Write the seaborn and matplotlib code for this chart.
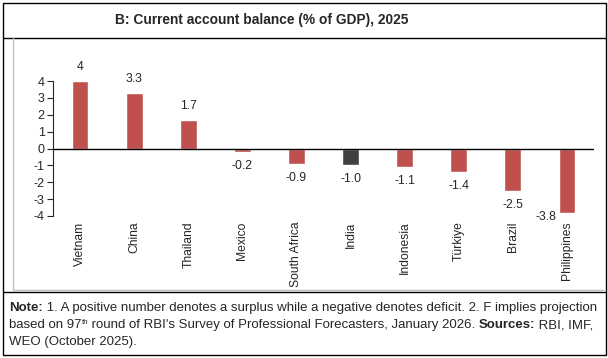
import pandas as pd
import seaborn as sns
import matplotlib.pyplot as plt
from matplotlib.lines import Line2D
from matplotlib.patches import Rectangle

# Dados do gráfico
countries = ['Vietnam', 'China', 'Thailand', 'Mexico', 'South Africa', 'India',
             'Indonesia', 'Türkiye', 'Brazil', 'Philippines']
balance = [4.0, 3.3, 1.7, -0.2, -0.9, -1.0, -1.1, -1.4, -2.5, -3.8]
value_labels = ['4', '3.3', '1.7', '-0.2', '-0.9', '-1.0', '-1.1', '-1.4', '-2.5', '-3.8']
yticks = [4, 3, 2, 1, 0, -1, -2, -3, -4]

RED = '#C0504D'
DARK = '#404040'
bar_colors = [DARK if c == 'India' else RED for c in countries]

sns.set_style('white')
plt.rcParams['font.family'] = ['Liberation Sans', 'DejaVu Sans']

W, H = 608, 358
fig = plt.figure(figsize=(W / 100, H / 100), dpi=100)
renderer = fig.canvas.get_renderer()


def fx(x):
    return x / W


def fy(y):
    return 1 - y / H


# Moldura
fig.patches.append(Rectangle((fx(2.5), fy(354.5)), fx(603), 352 / H, transform=fig.transFigure,
                             fill=False, edgecolor='black', lw=1))
fig.lines.append(Line2D([fx(2.5), fx(605.5)], [fy(37.5), fy(37.5)], transform=fig.transFigure,
                        color='black', lw=1))
fig.lines.append(Line2D([fx(2.5), fx(605.5)], [fy(291.5), fy(291.5)], transform=fig.transFigure,
                        color='black', lw=1))
fig.lines.append(Line2D([fx(12.5), fx(12.5), fx(603)], [fy(38), fy(289.5), fy(289.5)],
                        transform=fig.transFigure, color='#BFBFBF', lw=1))

fig.text(fx(262), fy(20), 'B: Current account balance (% of GDP), 2025',
         ha='center', va='center', fontsize=9.9, fontweight='bold')

ax = fig.add_axes([fx(53), fy(216), fx(594) - fx(53), (216 - 81) / H])
df = pd.DataFrame({'country': countries, 'value': balance})
sns.barplot(data=df, x='country', y='value', hue='country', palette=bar_colors,
            legend=False, width=0.31, saturation=1, ax=ax)

ax.set_ylim(-4, 4)
ax.set_xlim(-0.5, len(countries) - 0.5)
ax.set_yticks(yticks)
ax.set_yticklabels([str(t) for t in yticks], fontsize=9)
ax.tick_params(axis='y', direction='out', length=4, width=0.8, pad=2, left=True)
ax.tick_params(axis='x', length=0, pad=4)
ax.set_xticks(range(len(countries)))
ax.set_xticklabels(countries, rotation=90, fontsize=8.7, va='top')
ax.set_xlabel('')
ax.set_ylabel('')
for s in ['top', 'right', 'bottom']:
    ax.spines[s].set_visible(False)
ax.spines['left'].set_linewidth(0.8)
ax.axhline(0, color='black', lw=1, zorder=3)

for i, (v, lab) in enumerate(zip(balance, value_labels)):
    if i == len(countries) - 1:
        # rótulo da última barra fica à esquerda, como no original
        ax.annotate(lab, (i, v), xytext=(-15, -3), textcoords='offset points',
                    ha='center', va='center', fontsize=8.7, annotation_clip=False)
    else:
        off = 10 if v > 0 else -10
        ax.annotate(lab, (i, v), xytext=(0, off), textcoords='offset points',
                    ha='center', va='center', fontsize=8.7, annotation_clip=False)


# Nota com trechos em negrito e sobrescrito
def write_runs(x, y, runs, size=9.5):
    for txt, weight, sup in runs:
        fs = size * 0.6 if sup else size
        yy = y - 4 if sup else y
        t = fig.text(fx(x), fy(yy), txt, ha='left', va='baseline', fontsize=fs, fontweight=weight)
        x += t.get_window_extent(renderer).width


write_runs(9, 311, [('Note:', 'bold', False),
                    (' 1. A positive number denotes a surplus while a negative denotes deficit. 2. F implies projection',
                     'normal', False)])
write_runs(9, 328, [('based on 97', 'normal', False), ('th', 'normal', True),
                    (" round of RBI's Survey of Professional Forecasters, January 2026. ", 'normal', False),
                    ('Sources:', 'bold', False), (' RBI, IMF,', 'normal', False)])
write_runs(9, 345, [('WEO (October 2025).', 'normal', False)])

fig.savefig('out.png', dpi=100)
